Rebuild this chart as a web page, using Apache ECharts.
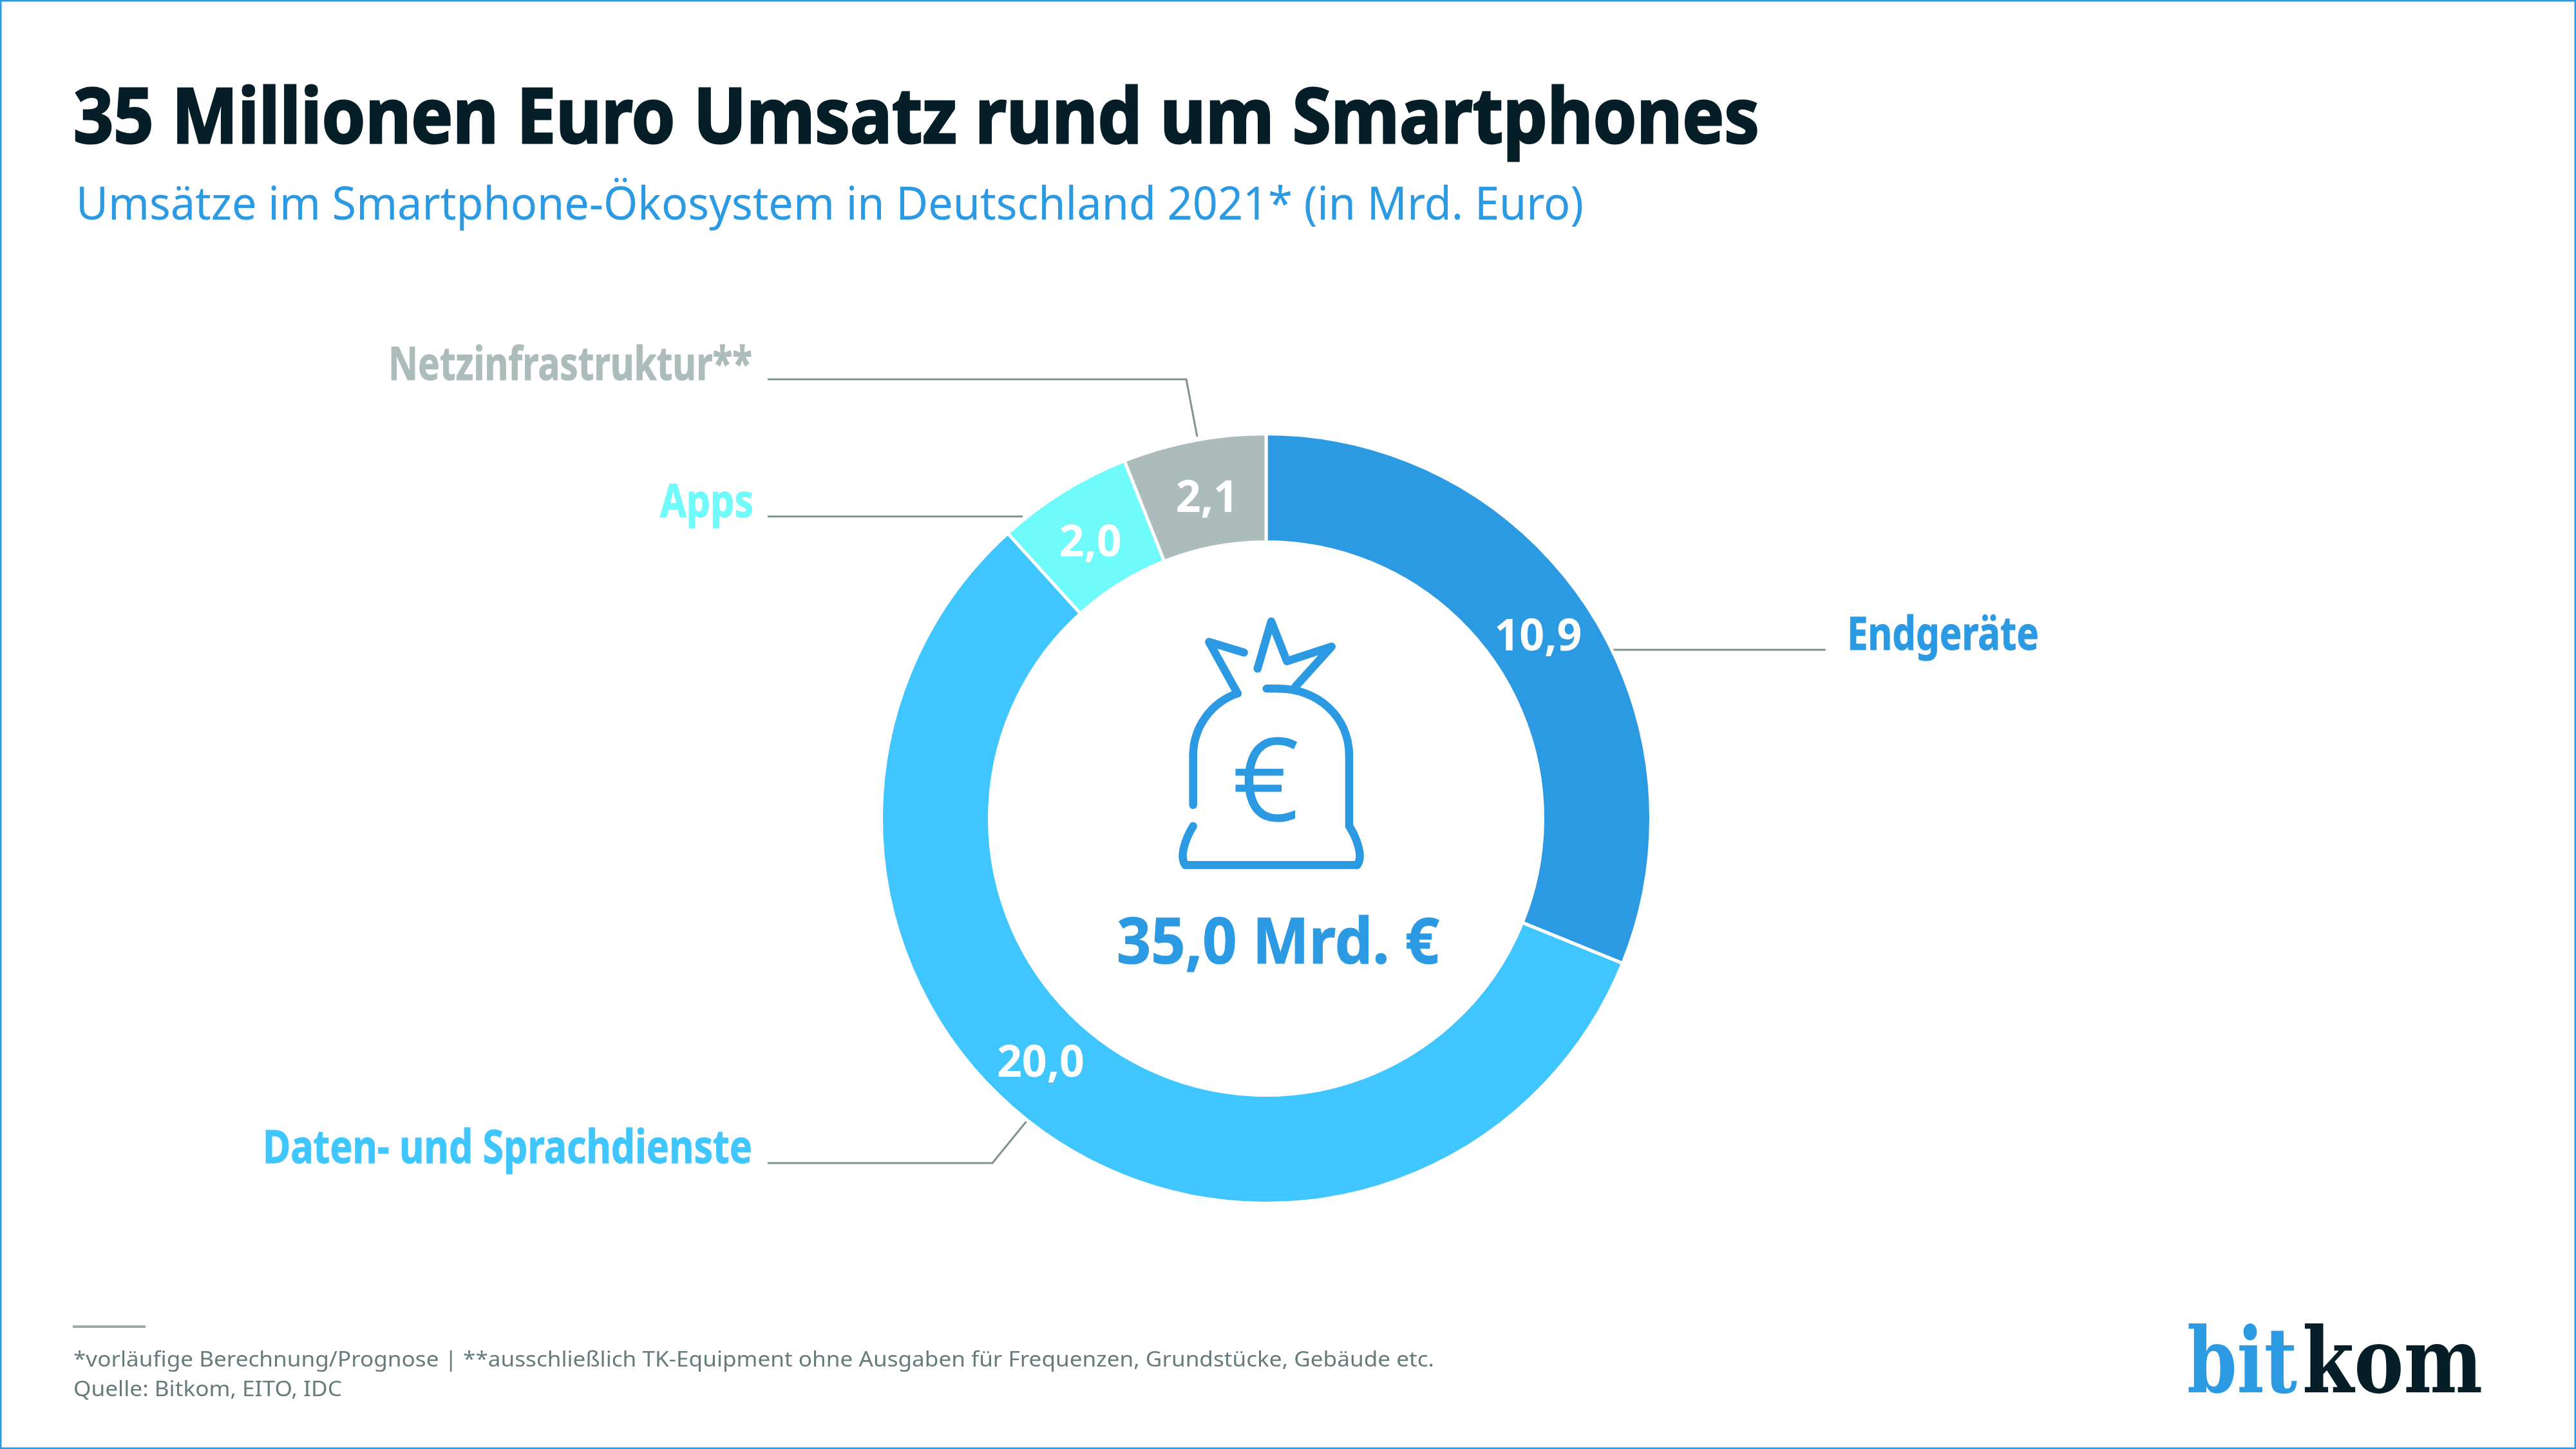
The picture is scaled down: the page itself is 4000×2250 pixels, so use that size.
<!DOCTYPE html>
<html>
<head>
<meta charset="utf-8">
<title>Smartphone-Ökosystem</title>
<style>
  html, body { margin: 0; padding: 0; background: #fff; }
  #main { width: 4000px; height: 2250px; }
</style>
<script src="https://cdn.jsdelivr.net/npm/echarts@6/dist/echarts.min.js"></script>
</head>
<body>
<div id="main"></div>
<script>
var categories = ["Endgeräte", "Daten- und Sprachdienste", "Apps", "Netzinfrastruktur**"];
var values = [10.9, 20.0, 2.0, 2.1];
var sliceColors = ["#2b9ae3", "#40c6ff", "#6efbfa", "#abbcba"];
var totalLabel = "35,0 Mrd. €";
var titleText = "35 Millionen Euro Umsatz rund um Smartphones";
var subtitleText = "Umsätze im Smartphone-Ökosystem in Deutschland 2021* (in Mrd. Euro)";
var footnoteText = "*vorläufige Berechnung/Prognose | **ausschließlich TK-Equipment ohne Ausgaben für Frequenzen, Grundstücke, Gebäude etc.";
var sourceText = "Quelle: Bitkom, EITO, IDC";

var BLUE = "#2b9ae3", DARK = "#051e27", GREY = "#687b7b", LINE = "#7f9393";
var FONT = '"Noto Sans", sans-serif';

// the value labels are not quite where the slice middle puts them
var labelDx = [-6, -54, 0, 5];
var labelDy = [8, -42, 12, 12];

var measureCtx = document.createElement("canvas").getContext("2d");

// text squeezed to the width it has in the picture, y is the baseline
function fitText(text, size, weight, fill, left, right, baseline, family, heavy) {
    var font = weight + " " + size + "px " + (family || FONT);
    measureCtx.font = font;
    var w = measureCtx.measureText(text).width;
    return {
        type: "text",
        x: left,
        y: baseline - size * 0.29,
        scaleX: (right - left) / w,
        silent: true,
        style: {
            text: text, font: font, fill: fill, align: "left", verticalAlign: "middle",
            stroke: heavy ? fill : null, lineWidth: heavy || 0
        }
    };
}

function leader(points, width) {
    return {
        type: "polyline",
        silent: true,
        shape: { points: points },
        style: { stroke: LINE, lineWidth: width || 3, fill: null }
    };
}

var bagStyle = { fill: null, stroke: BLUE, lineWidth: 12.5, lineCap: "round", lineJoin: "round" };

function bagLine(points) {
    return { type: "polyline", silent: true, shape: { points: points }, style: bagStyle };
}

function bagCurve(x1, y1, cx1, cy1, cx2, cy2, x2, y2) {
    return {
        type: "bezierCurve", silent: true,
        shape: { x1: x1, y1: y1, cpx1: cx1, cpy1: cy1, cpx2: cx2, cpy2: cy2, x2: x2, y2: y2 },
        style: bagStyle
    };
}

var graphics = [
    { type: "rect", silent: true, shape: { x: 0, y: 0, width: 4000, height: 2250 },
      style: { fill: null, stroke: BLUE, lineWidth: 5 } },

    fitText(titleText, 118, "bold", DARK, 114, 2732, 223, null, 3),
    fitText(subtitleText, 72, "normal", BLUE, 118, 2459, 341),

    fitText(categories[3], 72, "bold", sliceColors[3], 603, 1168, 590, null, 1),
    fitText(categories[2], 72, "bold", sliceColors[2], 1025, 1170, 803, null, 1),
    fitText(categories[0], 72, "bold", sliceColors[0], 2868, 3166, 1009, null, 1),
    fitText(categories[1], 72, "bold", sliceColors[1], 408, 1168, 1806, null, 1),

    leader([[1192, 589], [1842, 589], [1859, 678]]),
    leader([[1192, 802], [1588, 802]]),
    leader([[2504, 1009], [2835, 1009]]),
    leader([[1192, 1806], [1541, 1806], [1594, 1741]]),

    // money bag
    bagLine([[1931.7, 1013.3], [1877.3, 996.7], [1921.7, 1076.7]]),
    bagCurve(1921.7, 1076.7, 1880, 1091, 1852.7, 1130, 1852.7, 1173.3),
    bagLine([[1852.7, 1173.3], [1852.7, 1250]]),
    bagCurve(1852.7, 1282.7, 1842, 1300, 1830, 1330, 1840.7, 1343.3),
    bagLine([[1840.7, 1343.3], [2107.3, 1343.3]]),
    bagCurve(2107.3, 1343.3, 2118, 1330, 2106, 1300, 2095, 1282.7),
    bagLine([[2095, 1282.7], [2095, 1173.3]]),
    bagCurve(2095, 1173.3, 2095, 1112, 2045, 1069.3, 1985, 1069.3),
    bagLine([[1985, 1069.3], [1966.7, 1069.3]]),
    bagLine([[1952.7, 1038.3], [1974, 965], [1998.3, 1026.7], [2067.7, 1004], [2011.7, 1066]]),
    fitText("€", 175, "300", BLUE, 1914, 2016, 1274, null, 3),
    fitText(totalLabel, 98, "bold", BLUE, 1734, 2235, 1496, null, 1),

    { type: "rect", silent: true, shape: { x: 113, y: 2058, width: 113, height: 4 }, style: { fill: "#9aacac" } },
    fitText(footnoteText, 33, "normal", GREY, 114, 2227, 2122),
    fitText(sourceText, 33, "normal", GREY, 114, 531, 2168),

    fitText("bit", 140, "bold", BLUE, 3396, 3567, 2166, '"DejaVu Serif", serif'),
    fitText("kom", 140, "bold", DARK, 3575, 3855, 2166, '"DejaVu Serif", serif')
];

var chart = echarts.init(document.getElementById("main"));
chart.setOption({
    animation: false,
    backgroundColor: "#fff",
    graphic: { elements: graphics },
    series: [{
        type: "pie",
        center: [1966, 1271],
        radius: [429.5, 597.5],
        startAngle: 90,
        clockwise: true,
        avoidLabelOverlap: false,
        silent: true,
        itemStyle: { borderColor: "#fff", borderWidth: 5 },
        label: {
            show: true,
            position: "inside",
            color: "#fff",
            fontFamily: FONT,
            fontWeight: "bold",
            fontSize: 68,
            formatter: function (p) { return p.value.toFixed(1).replace(".", ","); }
        },
        labelLine: { show: false },
        labelLayout: function (p) {
            return { dx: labelDx[p.dataIndex], dy: labelDy[p.dataIndex] };
        },
        data: categories.map(function (name, i) {
            return { name: name, value: values[i], itemStyle: { color: sliceColors[i] } };
        })
    }]
});
</script>
</body>
</html>
